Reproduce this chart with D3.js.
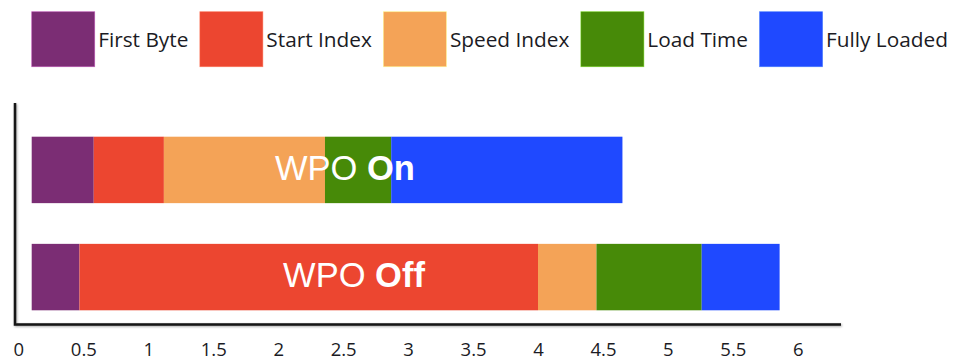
<!DOCTYPE html>
<html>
<head>
<meta charset="utf-8">
<script src="https://cdn.jsdelivr.net/npm/d3@7/dist/d3.min.js"></script>
<style>
  html, body { margin: 0; padding: 0; background: #ffffff; }
  svg { display: block; }
</style>
</head>
<body>
<svg id="chart" width="961" height="362"></svg>
<script>
// Page-load milestones (seconds, measured from request start)
const categories  = ["WPO On", "WPO Off"];
const seriesNames = ["First Byte", "Start Index", "Speed Index", "Load Time", "Fully Loaded"];
const firstByte   = [0.58, 0.47];
const startIndex  = [1.12, 4.00];
const speedIndex  = [2.36, 4.45];
const loadTime    = [2.87, 5.26];
const fullyLoaded = [4.65, 5.86];
const tickValues  = [0, 0.5, 1, 1.5, 2, 2.5, 3, 3.5, 4, 4.5, 5, 5.5, 6];
const colors      = ["#7B2D74", "#EC4630", "#F4A357", "#478A08", "#1F49FF"];

const milestones = [firstByte, startIndex, speedIndex, loadTime, fullyLoaded];

const svg = d3.select("#chart");
const uiFont = "'Open Sans', 'DejaVu Sans', sans-serif";

// Scales
const x = d3.scaleLinear().domain([0, 6]).range([18.4, 797.8]);
const y = d3.scaleBand().domain(categories).range([136.7, 310.3]).paddingInner(0.38).paddingOuter(0);

const axisLeftX = 15, axisBottomY = 324.5, axisTopY = 103, axisRightX = 841;
const barGap = 13.3; // space between the vertical axis line and the start of each bar

// Segments: each milestone runs from the previous milestone to its own time
const segments = [];
categories.forEach((cat, ci) => {
  milestones.forEach((arr, si) => {
    const start = si === 0 ? 0 : milestones[si - 1][ci];
    segments.push({ cat, series: seriesNames[si], si, start, end: arr[ci] });
  });
});

const defs = svg.append("defs");
const shadow = defs.append("filter").attr("id", "lineShadow")
  .attr("x", "-5%").attr("y", "-50%").attr("width", "110%").attr("height", "200%");
shadow.append("feDropShadow").attr("dx", 0.8).attr("dy", 1).attr("stdDeviation", 0.8)
  .attr("flood-color", "#000").attr("flood-opacity", 0.35);

// Legend
const legend = svg.append("g").attr("class", "legend");
let lx = 31.7;
seriesNames.forEach((name, i) => {
  const g = legend.append("g");
  g.append("rect")
    .attr("x", lx).attr("y", 11.7).attr("width", 63).attr("height", 55)
    .attr("fill", colors[i])
    .attr("stroke", d3.color(colors[i]).brighter(1.2)).attr("stroke-width", 0.8).attr("stroke-opacity", 0.6);
  const t = g.append("text")
    .attr("x", lx + 66.5).attr("y", 46.5)
    .attr("font-family", uiFont).attr("font-size", 20.8)
    .attr("fill", "#1b1b24")
    .text(name);
  lx = lx + 66.5 + t.node().getComputedTextLength() + 11.5;
});

// Bars
svg.append("g").attr("class", "bars")
  .selectAll("rect").data(segments).join("rect")
  .attr("x", d => d.si === 0 ? x(0) + barGap : x(d.start))
  .attr("y", d => y(d.cat))
  .attr("width", d => x(d.end) - (d.si === 0 ? x(0) + barGap : x(d.start)))
  .attr("height", y.bandwidth())
  .attr("fill", d => colors[d.si]);

// Bar labels: "WPO" regular, state in bold
const labelCenters = [345, 354];
const labels = svg.append("g").attr("class", "bar-labels")
  .selectAll("text").data(categories).join("text")
  .attr("x", (d, i) => labelCenters[i])
  .attr("y", d => y(d) + y.bandwidth() / 2 + 10)
  .attr("text-anchor", "middle")
  .attr("font-family", "'Liberation Sans', Arial, sans-serif")
  .attr("font-size", 34.5)
  .attr("fill", "#ffffff");
labels.append("tspan").text(d => d.split(" ")[0] + " ");
labels.append("tspan").attr("font-weight", "bold").text(d => d.split(" ")[1]);

// X axis labels
const xAxis = d3.axisBottom(x).tickValues(tickValues).tickSize(0).tickPadding(18)
  .tickFormat(d3.format(""));
const axG = svg.append("g").attr("transform", `translate(0,${axisBottomY})`).call(xAxis);
axG.select(".domain").remove();
axG.selectAll("text").attr("font-family", uiFont).attr("font-size", 18.5).attr("fill", "#1b1b24");

// Axis lines
const lines = svg.append("g").attr("filter", "url(#lineShadow)");
lines.append("path")
  .attr("d", `M${axisLeftX},${axisTopY}V${axisBottomY}H${axisRightX}`)
  .attr("fill", "none").attr("stroke", "#151515").attr("stroke-width", 2.5);
</script>
</body>
</html>
